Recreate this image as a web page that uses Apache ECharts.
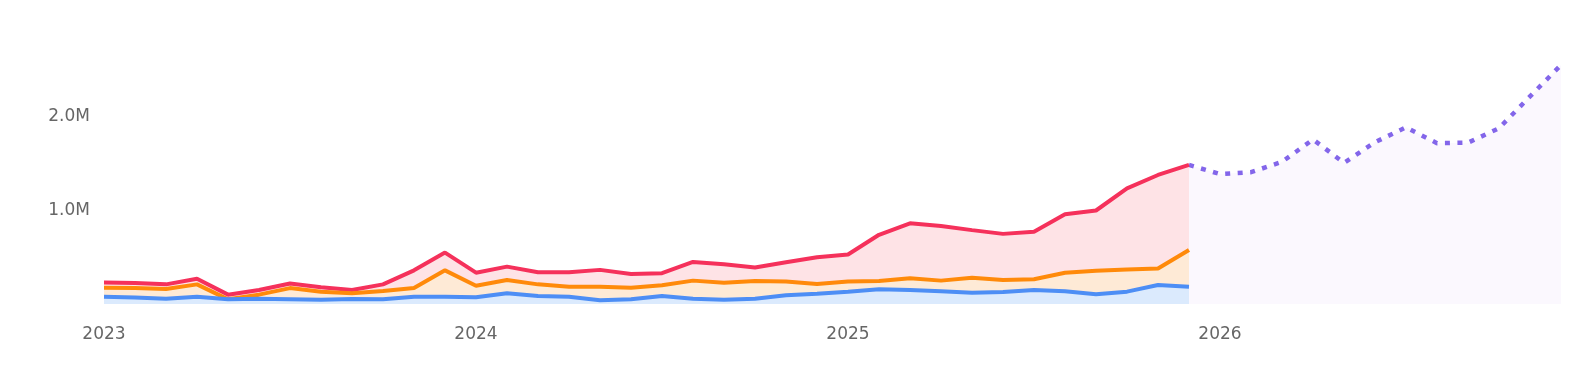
<!DOCTYPE html>
<html>
<head>
<meta charset="utf-8">
<script src="https://cdn.jsdelivr.net/npm/echarts@6/dist/echarts.min.js"></script>
<style>
html,body{margin:0;padding:0;background:#fff;}
#chart{width:1576px;height:380px;}
</style>
</head>
<body>
<div id="chart"></div>
<script>
const categories = [
  "2023-01","2023-02","2023-03","2023-04","2023-05","2023-06","2023-07","2023-08","2023-09","2023-10","2023-11","2023-12",
  "2024-01","2024-02","2024-03","2024-04","2024-05","2024-06","2024-07","2024-08","2024-09","2024-10","2024-11","2024-12",
  "2025-01","2025-02","2025-03","2025-04","2025-05","2025-06","2025-07","2025-08","2025-09","2025-10","2025-11","2025-12",
  "2026-01","2026-02","2026-03","2026-04","2026-05","2026-06","2026-07","2026-08","2026-09","2026-10","2026-11","2026-12"
];
// values in millions
const totalValues = [
  0.23, 0.225, 0.21, 0.27, 0.10, 0.15, 0.22, 0.18, 0.15, 0.21, 0.36, 0.55,
  0.335, 0.40, 0.34, 0.34, 0.365, 0.32, 0.33, 0.45, 0.425, 0.39, 0.446, 0.50,
  0.53, 0.74, 0.863, 0.834, 0.79, 0.75, 0.773, 0.96, 1.0, 1.237, 1.38, 1.487
];
const midValues = [
  0.175, 0.17, 0.16, 0.21, 0.05, 0.10, 0.17, 0.13, 0.115, 0.14, 0.17, 0.36,
  0.195, 0.257, 0.21, 0.185, 0.185, 0.175, 0.20, 0.25, 0.228, 0.246, 0.24, 0.214,
  0.24, 0.246, 0.275, 0.25, 0.28, 0.257, 0.264, 0.335, 0.355, 0.37, 0.38, 0.578
];
const lowValues = [
  0.078, 0.07, 0.055, 0.078, 0.05, 0.055, 0.05, 0.045, 0.053, 0.05, 0.078, 0.078,
  0.072, 0.114, 0.085, 0.078, 0.04, 0.05, 0.085, 0.057, 0.046, 0.057, 0.093, 0.11,
  0.13, 0.157, 0.15, 0.136, 0.121, 0.128, 0.15, 0.136, 0.105, 0.132, 0.203, 0.185
];
// forecast from 2025-12 to 2026-12
const forecastStart = "2025-12";
const forecastValues = [1.487, 1.39, 1.41, 1.52, 1.76, 1.51, 1.73, 1.89, 1.72, 1.725, 1.88, 2.22, 2.556];
const yTicks = [0, 1, 2, 3];

function padRight(arr) {
  const out = arr.slice();
  while (out.length < categories.length) out.push(null);
  return out;
}
function forecastSeries() {
  const start = categories.indexOf(forecastStart);
  const out = categories.map(() => null);
  forecastValues.forEach((v, i) => { out[start + i] = v; });
  return out;
}

const chart = echarts.init(document.getElementById('chart'), null, {renderer: 'canvas'});
const labelFont = {fontFamily: 'DejaVu Sans', fontSize: 17, color: '#666', fontWeight: 'normal'};
chart.setOption({
  animation: false,
  grid: {left: 104, right: 15, top: 23.5, bottom: 76, containLabel: false},
  xAxis: {
    type: 'category',
    data: categories,
    boundaryGap: false,
    axisLine: {show: false},
    axisTick: {show: false},
    splitLine: {show: false},
    axisLabel: Object.assign({
      margin: 22,
      interval: (idx) => idx % 12 === 0,
      formatter: (v) => v.slice(0, 4)
    }, labelFont)
  },
  yAxis: {
    type: 'value',
    min: yTicks[0],
    max: yTicks[yTicks.length - 1],
    interval: 1,
    axisLine: {show: false},
    axisTick: {show: false},
    splitLine: {show: false},
    axisLabel: Object.assign({
      margin: 14,
      padding: [4, 0, 0, 0],
      showMinLabel: false,
      showMaxLabel: false,
      formatter: (v) => v.toFixed(1) + 'M'
    }, labelFont)
  },
  series: [
    {
      name: 'forecast', type: 'line', data: forecastSeries(), z: 1,
      showSymbol: false, connectNulls: false,
      lineStyle: {color: '#8366ea', width: 4.5, type: [5, 7.5]},
      areaStyle: {color: '#fbf8fe', opacity: 1}
    },
    {
      name: 'total', type: 'line', data: padRight(totalValues), z: 2,
      showSymbol: false,
      lineStyle: {color: '#f5315b', width: 4},
      areaStyle: {color: '#fee3e6', opacity: 1}
    },
    {
      name: 'mid', type: 'line', data: padRight(midValues), z: 3,
      showSymbol: false,
      lineStyle: {color: '#ff8a0a', width: 4},
      areaStyle: {color: '#feead6', opacity: 1}
    },
    {
      name: 'low', type: 'line', data: padRight(lowValues), z: 4,
      showSymbol: false,
      lineStyle: {color: '#4d8ef5', width: 4},
      areaStyle: {color: '#dbeafd', opacity: 1}
    }
  ]
});
</script>
</body>
</html>
